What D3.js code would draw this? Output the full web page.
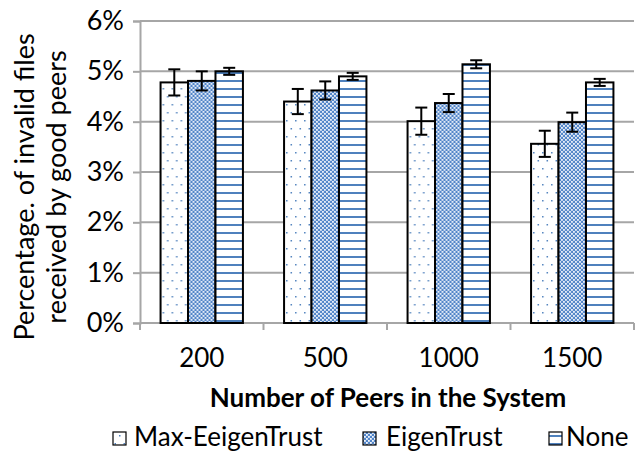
<!DOCTYPE html>
<html>
<head>
<meta charset="utf-8">
<script src="https://cdn.jsdelivr.net/npm/d3@7"></script>
<style>
  html, body { margin: 0; padding: 0; background: #fff; }
  svg { display: block; font-family: Lato, "Open Sans", sans-serif; }
</style>
</head>
<body>
<svg id="chart" width="637" height="452"></svg>
<script>
// Peer counts on the x axis
const categories = ["200", "500", "1000", "1500"];
// Series names (legend order)
const seriesNames = ["Max-EeigenTrust", "EigenTrust", "None"];
// Mean percentage of invalid files received by good peers
const maxEigenValues = [4.78, 4.40, 4.01, 3.56];
const eigenValues    = [4.81, 4.62, 4.37, 3.99];
const noneValues     = [5.00, 4.90, 5.14, 4.78];
// Error bar half-widths (percentage points)
const maxEigenErr = [0.26, 0.25, 0.27, 0.26];
const eigenErr    = [0.19, 0.18, 0.18, 0.19];
const noneErr     = [0.07, 0.07, 0.08, 0.07];
// Y axis ticks
const yTicks = [0, 1, 2, 3, 4, 5, 6];

const seriesValues = [maxEigenValues, eigenValues, noneValues];
const seriesErrors = [maxEigenErr, eigenErr, noneErr];

const svg = d3.select("#chart");
const margin = { left: 140, right: 3, top: 21, bottom: 129 };
const W = 637, H = 452;
const plotW = W - margin.left - margin.right;
const plotH = H - margin.top - margin.bottom;

// Fill patterns
const defs = svg.append("defs");
const blue = "#4f81bd";

const pDots = defs.append("pattern").attr("id", "pat-dots")
  .attr("patternUnits", "userSpaceOnUse").attr("width", 9).attr("height", 16);
pDots.append("rect").attr("width", 9).attr("height", 16).attr("fill", "#fff");
pDots.append("rect").attr("x", 2).attr("y", 3).attr("width", 1.5).attr("height", 1.5).attr("fill", blue);
pDots.append("rect").attr("x", 6.5).attr("y", 11).attr("width", 1.5).attr("height", 1.5).attr("fill", blue);

const pCheck = defs.append("pattern").attr("id", "pat-check")
  .attr("patternUnits", "userSpaceOnUse").attr("width", 4).attr("height", 4);
pCheck.append("rect").attr("width", 4).attr("height", 4).attr("fill", "#5285c8");
pCheck.append("rect").attr("x", 0).attr("y", 0).attr("width", 1.8).attr("height", 1.8).attr("fill", "#f2f6fc");
pCheck.append("rect").attr("x", 2).attr("y", 2).attr("width", 1.8).attr("height", 1.8).attr("fill", "#f2f6fc");

const pLines = defs.append("pattern").attr("id", "pat-lines")
  .attr("patternUnits", "userSpaceOnUse").attr("width", 8).attr("height", 8);
pLines.append("rect").attr("width", 8).attr("height", 8).attr("fill", "#fff");
pLines.append("rect").attr("x", 0).attr("y", 3).attr("width", 8).attr("height", 2).attr("fill", blue);

const fills = ["url(#pat-dots)", "url(#pat-check)", "url(#pat-lines)"];

const g = svg.append("g").attr("transform", `translate(${margin.left},${margin.top})`);

const x0 = d3.scaleBand().domain(categories).range([0, plotW]).paddingInner(0.333).paddingOuter(0.1665);
const x1 = d3.scaleBand().domain(seriesNames).range([0, x0.bandwidth()]);
const y = d3.scaleLinear().domain([0, 6]).range([plotH, 0]);

// Horizontal gridlines
g.append("g").selectAll("line").data(yTicks).join("line")
  .attr("x1", 0).attr("x2", plotW)
  .attr("y1", d => y(d)).attr("y2", d => y(d))
  .attr("stroke", "#a6a6a6").attr("stroke-width", 2);

// Y axis
const yAxis = g.append("g")
  .call(d3.axisLeft(y).tickValues(yTicks).tickFormat(d => d + "%").tickSize(7).tickPadding(9));
yAxis.select(".domain").attr("stroke", "#a6a6a6").attr("stroke-width", 2);
yAxis.selectAll(".tick line").attr("stroke", "#a6a6a6").attr("stroke-width", 2);
yAxis.selectAll("text").attr("font-size", 27).attr("fill", "#000").attr("font-family", "Lato, sans-serif");

// X axis: ticks at band boundaries
const xAxis = g.append("g").attr("transform", `translate(0,${plotH})`);
xAxis.append("line").attr("x1", 0).attr("x2", plotW).attr("stroke", "#a6a6a6").attr("stroke-width", 2);
const boundaries = d3.range(categories.length + 1).map(i => i * plotW / categories.length);
xAxis.selectAll(".bt").data(boundaries).join("line").attr("class", "bt")
  .attr("x1", d => d).attr("x2", d => d).attr("y1", 0).attr("y2", 7)
  .attr("stroke", "#a6a6a6").attr("stroke-width", 2);
xAxis.selectAll(".cl").data(categories).join("text").attr("class", "cl")
  .attr("x", d => x0(d) + x0.bandwidth() / 2).attr("y", 44)
  .attr("text-anchor", "middle").attr("font-size", 26).text(d => d);

// Bars
const groups = g.append("g").selectAll("g").data(categories).join("g")
  .attr("transform", d => `translate(${x0(d)},0)`);

seriesNames.forEach((s, si) => {
  groups.append("rect")
    .attr("x", x1(s)).attr("width", x1.bandwidth())
    .attr("y", (d, ci) => y(seriesValues[si][ci]))
    .attr("height", (d, ci) => y(0) - y(seriesValues[si][ci]))
    .attr("fill", fills[si]).attr("stroke", "#000").attr("stroke-width", 2);
});

// Error bars
seriesNames.forEach((s, si) => {
  const cx = x1(s) + x1.bandwidth() / 2;
  const cap = 6;
  groups.each(function (d, ci) {
    const v = seriesValues[si][ci], e = seriesErrors[si][ci];
    const eg = d3.select(this).append("g").attr("stroke", "#000").attr("stroke-width", 2);
    eg.append("line").attr("x1", cx).attr("x2", cx).attr("y1", y(v + e)).attr("y2", y(v - e));
    eg.append("line").attr("x1", cx - cap).attr("x2", cx + cap).attr("y1", y(v + e)).attr("y2", y(v + e));
    eg.append("line").attr("x1", cx - cap).attr("x2", cx + cap).attr("y1", y(v - e)).attr("y2", y(v - e));
  });
});

// Axis titles
svg.append("text").attr("x", 388).attr("y", 407)
  .attr("text-anchor", "middle").attr("font-size", 26).attr("font-weight", "bold")
  .text("Number of Peers in the System");

const yt = svg.append("text").attr("transform", `translate(34,${margin.top + plotH / 2 + 15}) rotate(-90)`)
  .attr("text-anchor", "middle").attr("font-size", 27);
yt.append("tspan").attr("x", 0).attr("dy", 0).text("Percentage. of invalid files");
yt.append("tspan").attr("x", 0).attr("dy", 32).text("received by  good peers");

// Legend
const legendIcon = [113, 363, 549];
const legendText = [134, 386, 566];
const leg = svg.append("g");
seriesNames.forEach((s, i) => {
  leg.append("rect").attr("x", legendIcon[i]).attr("y", 432).attr("width", 13).attr("height", 13)
    .attr("fill", fills[i]).attr("stroke", "#000").attr("stroke-width", 1.2);
  leg.append("text").attr("x", legendText[i]).attr("y", 446).attr("font-size", 26).text(s);
});
</script>
</body>
</html>
